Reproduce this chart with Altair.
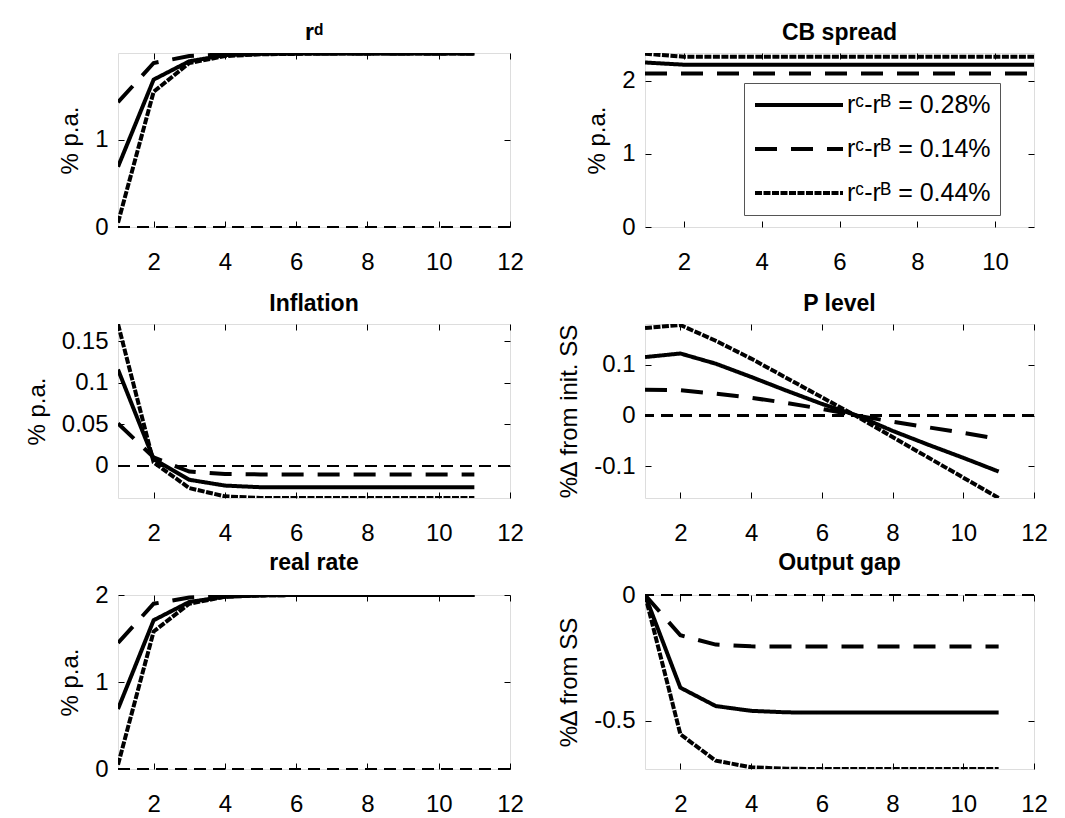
import altair as alt
import pandas as pd

steps = [1, 2, 3, 4, 5, 6, 7, 8, 9, 10, 11]
series_names = ["rᶜ-rᴮ = 0.28%", "rᶜ-rᴮ = 0.14%", "rᶜ-rᴮ = 0.44%"]

# r^d
rd_base = [0.69, 1.69, 1.90, 1.97, 1.985, 1.99, 1.99, 1.99, 1.99, 1.99, 1.99]
rd_low = [1.43, 1.88, 1.96, 1.98, 1.99, 1.99, 1.99, 1.99, 1.99, 1.99, 1.99]
rd_high = [0.05, 1.55, 1.88, 1.96, 1.98, 1.985, 1.99, 1.99, 1.99, 1.99, 1.99]

# CB spread
cb_base = [2.25, 2.22, 2.22, 2.22, 2.22, 2.22, 2.22, 2.22, 2.22, 2.22, 2.22]
cb_low = [2.10, 2.10, 2.10, 2.10, 2.10, 2.10, 2.10, 2.10, 2.10, 2.10, 2.10]
cb_high = [2.37, 2.33, 2.33, 2.33, 2.33, 2.33, 2.33, 2.33, 2.33, 2.33, 2.33]

# Inflation
inf_base = [0.116, 0.008, -0.017, -0.024, -0.026, -0.026, -0.026, -0.026, -0.026, -0.026, -0.026]
inf_low = [0.051, 0.010, -0.007, -0.010, -0.0105, -0.0105, -0.0105, -0.0105, -0.0105, -0.0105, -0.0105]
inf_high = [0.171, 0.004, -0.027, -0.037, -0.039, -0.039, -0.039, -0.039, -0.039, -0.039, -0.039]

# P level
pl_base = [0.115, 0.122, 0.102, 0.076, 0.049, 0.023, 0.0, -0.030, -0.057, -0.083, -0.110]
pl_low = [0.051, 0.050, 0.043, 0.035, 0.025, 0.013, 0.0, -0.012, -0.023, -0.034, -0.046]
pl_high = [0.172, 0.178, 0.147, 0.112, 0.074, 0.036, -0.002, -0.042, -0.082, -0.122, -0.162]

# real rate
rr_base = [0.69, 1.71, 1.92, 1.98, 1.995, 2.0, 2.0, 2.0, 2.0, 2.0, 2.0]
rr_low = [1.45, 1.90, 1.97, 1.99, 2.0, 2.0, 2.0, 2.0, 2.0, 2.0, 2.0]
rr_high = [0.05, 1.58, 1.90, 1.98, 1.995, 2.0, 2.0, 2.0, 2.0, 2.0, 2.0]

# Output gap
og_base = [0.0, -0.368, -0.441, -0.460, -0.466, -0.467, -0.467, -0.467, -0.467, -0.467, -0.467]
og_low = [0.0, -0.160, -0.197, -0.204, -0.205, -0.205, -0.205, -0.205, -0.205, -0.205, -0.205]
og_high = [0.0, -0.553, -0.658, -0.684, -0.690, -0.691, -0.691, -0.691, -0.691, -0.691, -0.691]

FONT = "Liberation Sans"
LW = 4
DASHES = [[1, 0], [22, 14], [7, 1.5]]


def long_df(a, b, c):
    rows = []
    for name, vals in zip(series_names, [a, b, c]):
        for s, v in zip(steps, vals):
            rows.append({"step": s, "value": v, "series": name})
    return pd.DataFrame(rows)


def panel(df, title, ytitle, xdom, xticks, ydom, yticks, zero, W, H, legend=False):
    xs = alt.Scale(domain=xdom, nice=False, zero=False)
    ys = alt.Scale(domain=ydom, nice=False, zero=False)
    lab = "'' + datum.value"
    if legend:
        leg = alt.Legend(
            title=None, orient="none", legendX=99, legendY=30,
            symbolType="M-1,0H7", symbolSize=22 * 22, symbolStrokeWidth=LW,
            symbolStrokeColor="black",
            labelFont=FONT, labelFontSize=25, labelColor="black", labelOffset=68,
            rowPadding=18, padding=9, strokeColor="#555555", fillColor="white",
        )
    else:
        leg = None
    lines = alt.Chart(df).mark_line(strokeWidth=LW, color="black", clip=True).encode(
        x=alt.X("step:Q", scale=xs, axis=alt.Axis(
            orient="bottom", values=xticks, title=None, tickSize=0, domain=False,
            grid=False, labelFlush=False, labelOverlap=False, labelPadding=23,
            labelFont=FONT, labelFontSize=24, labelColor="black")),
        y=alt.Y("value:Q", scale=ys, axis=alt.Axis(
            orient="left", values=yticks, title=ytitle, tickSize=0, domain=False,
            grid=False, labelExpr=lab, labelPadding=10, labelFont=FONT, labelFontSize=24,
            labelColor="black", titleFont=FONT, titleFontSize=24, titleFontWeight="normal",
            titleColor="black", titlePadding=12)),
        strokeDash=alt.StrokeDash("series:N", scale=alt.Scale(domain=series_names, range=DASHES),
                                  legend=leg),
    )
    tick_axis = dict(title=None, labels=False, domain=False, grid=False, tickSize=6,
                     tickColor="black", tickWidth=1)
    t1 = alt.Chart(df).mark_line(opacity=0).encode(
        x=alt.X("step:Q", scale=xs, axis=alt.Axis(orient="top", offset=-H, values=xticks, **tick_axis)),
        y=alt.Y("value:Q", scale=ys, axis=alt.Axis(orient="right", offset=-W, values=yticks, **tick_axis)),
    )
    t2 = alt.Chart(df).mark_line(opacity=0).encode(
        x=alt.X("step:Q", scale=xs, axis=alt.Axis(orient="bottom", offset=-H, values=xticks, **tick_axis)),
        y=alt.Y("value:Q", scale=ys, axis=alt.Axis(orient="left", offset=-W, values=yticks, **tick_axis)),
    )
    layers = [t1, t2]
    if zero:
        zl = alt.Chart(df).mark_rule(color="black", strokeWidth=1.5, strokeDash=[12, 7]).encode(
            y=alt.datum(0, scale=ys, axis=None)
        )
        layers.append(zl)
    layers.append(lines)
    return alt.layer(*layers).resolve_axis(x="independent", y="independent").properties(
        width=W, height=H,
        title=alt.TitleParams(title, font=FONT, fontSize=23, fontWeight="bold", color="black",
                              offset=8, anchor="middle"),
    )


WL, WR, H = 392, 389, 174
p1 = panel(long_df(rd_base, rd_low, rd_high), "rᵈ", "% p.a.", [1, 12], [2, 4, 6, 8, 10, 12],
           [0, 1.995], [0, 1], True, WL, H)
p2 = panel(long_df(cb_base, cb_low, cb_high), "CB spread", "% p.a.", [1, 11], [2, 4, 6, 8, 10],
           [0, 2.38], [0, 1, 2], False, WR, H, legend=True)
p3 = panel(long_df(inf_base, inf_low, inf_high), "Inflation", "% p.a.", [1, 12], [2, 4, 6, 8, 10, 12],
           [-0.039, 0.171], [0, 0.05, 0.1, 0.15], True, WL, H)
p4 = panel(long_df(pl_base, pl_low, pl_high), "P level", "%∆ from init. SS", [1, 12], [2, 4, 6, 8, 10, 12],
           [-0.162, 0.18], [-0.1, 0, 0.1], True, WR, H)
p5 = panel(long_df(rr_base, rr_low, rr_high), "real rate", "% p.a.", [1, 12], [2, 4, 6, 8, 10, 12],
           [0, 2.0], [0, 1, 2], True, WL, H)
p6 = panel(long_df(og_base, og_low, og_high), "Output gap", "%∆ from SS", [1, 12], [2, 4, 6, 8, 10, 12],
           [-0.691, 0], [-0.5, 0], True, WR, H)

chart = alt.concat(p1, p2, p3, p4, p5, p6, columns=2, bounds="flush",
                   spacing={"row": 97, "column": 135}).resolve_scale(
    strokeDash="independent"
).properties(
    padding={"left": 16, "top": 13, "right": 5, "bottom": 5}
).configure_view(stroke="black", strokeWidth=1).configure(background="white")

chart.save("out.html", embed_options={"renderer": "svg", "actions": False})
